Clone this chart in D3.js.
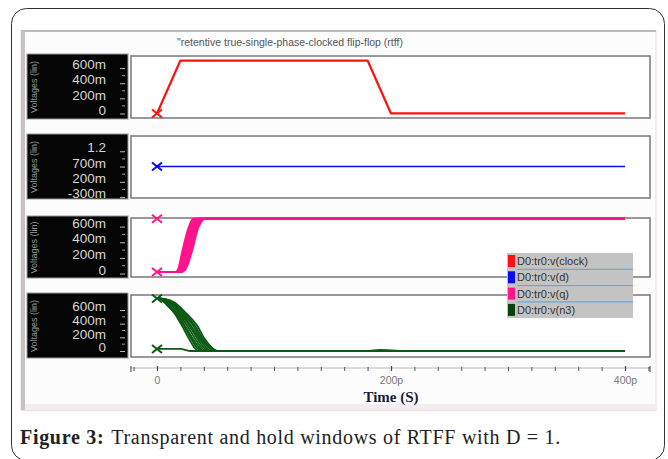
<!DOCTYPE html>
<html>
<head>
<meta charset="utf-8">
<script src="https://cdn.jsdelivr.net/npm/d3@7"></script>
<style>
  body { margin: 0; background: #fff; }
  svg { display: block; }
</style>
</head>
<body>
<script>
// chart values (time in ps, voltage in V)
var chartTitle = '"retentive true-single-phase-clocked flip-flop (rtff)';
var axisTitle = 'Time (S)';
var yAxisTitle = 'Voltages (lin)';
var captionBold = 'Figure 3:';
var captionText = 'Transparent and hold windows of RTFF with D = 1.';

var legendNames = ['D0:tr0:v(clock)', 'D0:tr0:v(d)', 'D0:tr0:v(q)', 'D0:tr0:v(n3)'];
var legendColors = ['#ff1010', '#0a0af0', '#ff148c', '#0a400a'];

var xTicksMajor = [0, 200, 400];
var xTickLabels = ['0', '200p', '400p'];
var xTicksMinor = [-20, 20, 40, 60, 80, 100, 120, 140, 160, 180, 220, 240, 260, 280, 300, 320, 340, 360, 380, 420];

var clockTicks = [0, 0.2, 0.4, 0.6];
var clockTickLabels = ['0', '200m', '400m', '600m'];
var dTicks = [-0.3, 0.2, 0.7, 1.2];
var dTickLabels = ['-300m', '200m', '700m', '1.2'];
var qTicks = [0, 0.2, 0.4, 0.6];
var qTickLabels = ['0', '200m', '400m', '600m'];
var n3Ticks = [0, 0.2, 0.4, 0.6];
var n3TickLabels = ['0', '200m', '400m', '600m'];

var clockWave = [[0, 0], [20, 0.7], [180, 0.7], [200, 0], [400, 0]];
var dWave = [[0, 0.7], [400, 0.7]];
var qWaves = [
  [[0, 0.02], [16, 0.02], [18, 0.05], [22, 0.3], [27, 0.58], [31, 0.7], [400, 0.7]],
  [[0, 0.02], [16.5, 0.02], [18.7, 0.05], [23, 0.3], [28, 0.58], [32, 0.7], [400, 0.7]],
  [[0, 0.02], [17, 0.02], [19.5, 0.05], [24, 0.3], [29, 0.58], [33, 0.7], [400, 0.7]],
  [[0, 0.02], [17.5, 0.02], [20.2, 0.05], [25, 0.3], [30, 0.58], [34.5, 0.7], [400, 0.7]],
  [[0, 0.02], [18, 0.02], [21, 0.05], [26, 0.3], [31, 0.58], [36, 0.7], [400, 0.7]],
  [[0, 0.02], [18.5, 0.02], [21.7, 0.05], [27, 0.3], [32, 0.58], [37, 0.7], [400, 0.7]],
  [[0, 0.02], [19, 0.02], [22.5, 0.05], [28, 0.3], [33, 0.58], [38.5, 0.7], [400, 0.7]],
  [[0, 0.02], [19.5, 0.02], [23.2, 0.05], [29, 0.3], [34, 0.58], [39.7, 0.7], [400, 0.7]],
  [[0, 0.02], [20, 0.02], [24, 0.05], [30, 0.3], [35, 0.58], [41, 0.7], [400, 0.7]]
];
var n3Waves = [
  [[0, 0.77], [3, 0.76], [8, 0.68], [15, 0.55], [22, 0.35], [28, 0.16], [32, 0.05], [35, 0], [400, 0]],
  [[0, 0.77], [3.5, 0.76], [9, 0.68], [16.5, 0.54], [23.5, 0.35], [29.5, 0.17], [34, 0.05], [37.5, 0], [400, 0]],
  [[0, 0.77], [4, 0.76], [10, 0.68], [18, 0.53], [25, 0.34], [31, 0.17], [36, 0.05], [40, 0], [400, 0]],
  [[0, 0.77], [4.5, 0.76], [11, 0.69], [19, 0.54], [26.5, 0.35], [33, 0.17], [38, 0.05], [42.5, 0], [400, 0]],
  [[0, 0.77], [5, 0.76], [12, 0.7], [20, 0.55], [28, 0.36], [35, 0.17], [40, 0.05], [45, 0], [400, 0]],
  [[0, 0.77], [5.5, 0.76], [12.5, 0.7], [21.5, 0.54], [29.5, 0.36], [36.5, 0.17], [42, 0.05], [47, 0], [400, 0]],
  [[0, 0.77], [6, 0.76], [13, 0.71], [23, 0.54], [31, 0.37], [38, 0.17], [44, 0.05], [49, 0], [400, 0]],
  [[0, 0.77], [6.5, 0.76], [14, 0.71], [24, 0.55], [32.5, 0.37], [39.5, 0.17], [45.5, 0.05], [51, 0], [400, 0]],
  [[0, 0.77], [7, 0.76], [15, 0.71], [25, 0.55], [34, 0.38], [41, 0.17], [47, 0.05], [53, 0], [400, 0]],
  [[0, 0.03], [20, 0.03], [28, 0], [180, 0], [190, 0.015], [200, 0.01], [210, 0], [400, 0]]
];
var clockMarks = [[0, 0]];
var dMarks = [[0, 0.7]];
var qMarks = [[0, 0.7], [0, 0.02]];
var n3Marks = [[0, 0.77], [0, 0.03]];

var width = 668, height = 459;
var plotLeft = 131, plotRight = 650;

var svg = d3.select('body').append('svg')
  .attr('width', width)
  .attr('height', height);

// outer rounded frame
svg.append('rect')
  .attr('x', 11.5).attr('y', 8.5)
  .attr('width', 653).attr('height', 452)
  .attr('rx', 15)
  .attr('fill', '#fff')
  .attr('stroke', '#333')
  .attr('stroke-width', 1);

// simulator screenshot background
svg.append('rect')
  .attr('x', 21).attr('y', 30.5)
  .attr('width', 635).attr('height', 380)
  .attr('fill', '#fcfcfc')
  .attr('stroke', '#f3d6de');
svg.append('line')
  .attr('x1', 21).attr('x2', 656).attr('y1', 31).attr('y2', 31)
  .attr('stroke', '#a8a8a8').attr('stroke-width', 1.5);
svg.append('rect')
  .attr('x', 21).attr('y', 31)
  .attr('width', 4).attr('height', 379)
  .attr('fill', '#c4c4c4');
svg.append('rect')
  .attr('x', 25).attr('y', 404)
  .attr('width', 631).attr('height', 6)
  .attr('fill', '#f2eef0');

svg.append('text')
  .attr('x', 290).attr('y', 46)
  .attr('text-anchor', 'middle')
  .style('font-family', 'Liberation Sans, Arial, sans-serif')
  .style('font-size', '10.5px')
  .style('fill', '#555')
  .text(chartTitle);

var x = d3.scaleLinear().domain([0, 400]).range([157, 625]);

var panels = [
  { top: 56, bottom: 118, domain: [-0.06, 0.76], ticks: clockTicks, labels: clockTickLabels, waves: [clockWave], marks: clockMarks, color: legendColors[0], lw: 2.2, curve: d3.curveLinear },
  { top: 136, bottom: 198, domain: [-0.33, 1.70], ticks: dTicks, labels: dTickLabels, waves: [dWave], marks: dMarks, color: legendColors[1], lw: 1.5, curve: d3.curveLinear },
  { top: 218, bottom: 277, domain: [-0.044, 0.71], ticks: qTicks, labels: qTickLabels, waves: qWaves, marks: qMarks, color: legendColors[2], lw: 2.2, curve: d3.curveMonotoneX },
  { top: 295, bottom: 357, domain: [-0.088, 0.82], ticks: n3Ticks, labels: n3TickLabels, waves: n3Waves, marks: n3Marks, color: '#0b5a12', lw: 1.8, curve: d3.curveMonotoneX }
];

panels.forEach(function (p) {
  var y = d3.scaleLinear().domain(p.domain).range([p.bottom, p.top]);

  // black label block
  svg.append('rect')
    .attr('x', 27).attr('y', p.top - 2)
    .attr('width', 101).attr('height', p.bottom - p.top + 3)
    .attr('fill', '#050505')
    .attr('stroke', '#9a9a9a');

  svg.append('text')
    .attr('transform', 'translate(37,' + (p.top + p.bottom) / 2 + ') rotate(-90)')
    .attr('text-anchor', 'middle')
    .style('font-family', 'Liberation Sans, Arial, sans-serif')
    .style('font-size', '9px')
    .style('fill', '#9a9a9a')
    .text(yAxisTitle);

  var yAxis = d3.axisLeft(y)
    .tickValues(p.ticks)
    .tickFormat(function (d, i) { return p.labels[i]; })
    .tickSize(5)
    .tickPadding(14);
  var ga = svg.append('g')
    .attr('transform', 'translate(125,0)')
    .call(yAxis);
  ga.select('.domain').remove();
  ga.selectAll('line').attr('stroke', '#bbb');
  ga.selectAll('text')
    .attr('dy', '0.05em')
    .style('font-family', 'Liberation Sans, Arial, sans-serif')
    .style('font-size', '13.5px')
    .style('fill', '#d6d6d6');

  // minor ticks between major ones
  var step = p.ticks[1] - p.ticks[0];
  var minor = p.ticks.slice(0, -1).map(function (t) { return t + step / 2; });
  svg.append('g').selectAll('line')
    .data(minor)
    .enter().append('line')
    .attr('x1', 122).attr('x2', 125)
    .attr('y1', function (d) { return y(d); })
    .attr('y2', function (d) { return y(d); })
    .attr('stroke', '#999');

  // plot frame
  svg.append('rect')
    .attr('x', plotLeft).attr('y', p.top)
    .attr('width', plotRight - plotLeft).attr('height', p.bottom - p.top)
    .attr('fill', '#fff')
    .attr('stroke', '#777')
    .attr('stroke-width', 1.5);

  var line = d3.line()
    .x(function (d) { return x(d[0]); })
    .y(function (d) { return y(d[1]); })
    .curve(p.curve);

  svg.append('g').selectAll('path')
    .data(p.waves)
    .enter().append('path')
    .attr('d', line)
    .attr('fill', 'none')
    .attr('stroke', p.color)
    .attr('stroke-width', p.lw)
    .attr('stroke-linejoin', 'round');

  var marks = svg.append('g').selectAll('g')
    .data(p.marks)
    .enter().append('g')
    .attr('transform', function (d) { return 'translate(' + x(d[0]) + ',' + y(d[1]) + ')'; });
  marks.append('path')
    .attr('d', 'M-5,-4L5,4M-5,4L5,-4')
    .attr('stroke', p.color)
    .attr('stroke-width', 2);
});

// time axis
var minorAxis = d3.axisBottom(x).tickValues(xTicksMinor).tickSize(3).tickFormat('');
var gm = svg.append('g').attr('transform', 'translate(0,368)').call(minorAxis);
gm.select('.domain').attr('d', 'M' + plotLeft + ',0H' + plotRight).attr('stroke', '#bbb');
gm.selectAll('line').attr('stroke', '#555').attr('y1', -1);

var majorAxis = d3.axisBottom(x)
  .tickValues(xTicksMajor)
  .tickFormat(function (d, i) { return xTickLabels[i]; })
  .tickSize(5)
  .tickPadding(6);
var gx = svg.append('g').attr('transform', 'translate(0,366)').call(majorAxis);
gx.select('.domain').remove();
gx.selectAll('line').attr('stroke', '#444').attr('stroke-width', 1.2);
gx.selectAll('text')
  .style('font-family', 'Liberation Sans, Arial, sans-serif')
  .style('font-size', '10.5px')
  .style('fill', '#777');
svg.append('line')
  .attr('x1', plotLeft).attr('x2', plotLeft)
  .attr('y1', 366).attr('y2', 372)
  .attr('stroke', '#444');
svg.append('line')
  .attr('x1', plotRight).attr('x2', plotRight)
  .attr('y1', 366).attr('y2', 372)
  .attr('stroke', '#444');

svg.append('text')
  .attr('x', 391).attr('y', 402)
  .attr('text-anchor', 'middle')
  .style('font-family', 'Liberation Serif, Times New Roman, serif')
  .style('font-weight', 'bold')
  .style('font-size', '15px')
  .style('fill', '#1c1c38')
  .text(axisTitle);

// legend
var legend = svg.append('g').attr('transform', 'translate(507,253)');
legend.append('rect')
  .attr('width', 126).attr('height', 65)
  .attr('fill', '#c3c3c3');
var rows = legend.selectAll('g')
  .data(legendNames)
  .enter().append('g')
  .attr('transform', function (d, i) { return 'translate(0,' + i * 16.3 + ')'; });
rows.append('rect')
  .attr('x', 1).attr('y', 2)
  .attr('width', 7).attr('height', 12)
  .attr('fill', function (d, i) { return legendColors[i]; });
rows.append('text')
  .attr('x', 10).attr('y', 12)
  .style('font-family', 'Liberation Sans, Arial, sans-serif')
  .style('font-size', '11px')
  .style('fill', '#333')
  .text(function (d) { return d; });
rows.filter(function (d, i) { return i > 0; })
  .append('line')
  .attr('x1', 10).attr('x2', 126)
  .attr('y1', 0).attr('y2', 0)
  .attr('stroke', '#5aa0e0')
  .attr('stroke-width', 1);

// caption
var cap = svg.append('text')
  .attr('x', 20).attr('y', 444)
  .style('font-family', 'Liberation Serif, Times New Roman, serif')
  .style('font-size', '20px')
  .style('letter-spacing', '0.7px')
  .style('fill', '#222');
cap.append('tspan').style('font-weight', 'bold').text(captionBold);
cap.append('tspan').attr('dx', 7).text(captionText);
</script>
</body>
</html>
